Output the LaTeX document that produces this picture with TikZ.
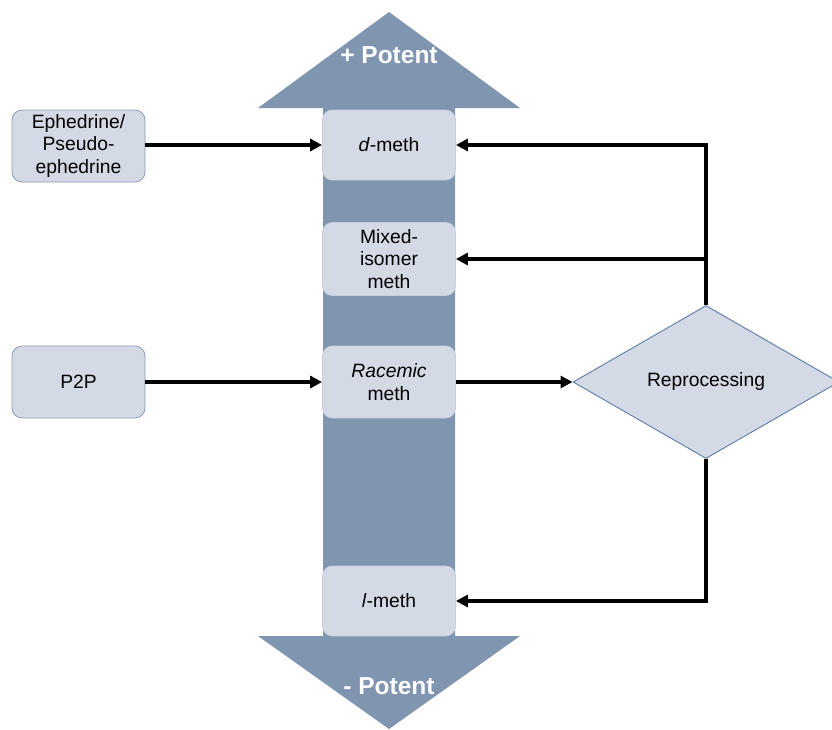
\documentclass[tikz,border=0pt]{standalone}
\usepackage{fontspec}
\setmainfont{Liberation Sans}
\usetikzlibrary{shapes.geometric,arrows.meta}
\definecolor{shaftc}{HTML}{8095B0}
\definecolor{boxc}{HTML}{D3DAE5}
\definecolor{boxline}{HTML}{8B9BB2}
\definecolor{dialine}{HTML}{5C7BA6}
\tikzset{
  midbox/.style={draw=boxc!85!shaftc, fill=boxc, rounded corners=10pt, minimum width=133pt, inner sep=0pt, align=center, font=\fontsize{19.3}{22.8}\selectfont, line width=0.8pt},
  sidebox/.style={draw=boxline, fill=boxc, rounded corners=10pt, minimum width=133pt, inner sep=0pt, align=center, font=\fontsize{19.3}{22.8}\selectfont, line width=0.8pt},
  dia/.style={diamond, draw=dialine, fill=boxc, line width=0.9pt, minimum width=266pt, minimum height=153pt, inner sep=0pt, aspect=1.74, font=\fontsize{19.3}{22.8}\selectfont},
  conn/.style={line width=3.6pt, -{Triangle[length=12pt,width=12pt]}},
  potent/.style={text=white, font=\fontsize{24.5}{28}\selectfont\bfseries}
}
\begin{document}
\begin{tikzpicture}[x=1pt,y=-1pt]
\useasboundingbox (0,0) rectangle (832,729);
\fill[shaftc] (258,108) -- (389,12) -- (520,108) -- (455,108) -- (455,636) -- (520,636) -- (389,729) -- (258,636) -- (323,636) -- (323,108) -- cycle;
\node[potent] (plus) at (389,55) {+ Potent};
\node[potent] (minus) at (389,686) {- Potent};
\node[midbox, minimum height=70pt] (d) at (389,145) {\textit{d}-meth};
\node[midbox, minimum height=73pt] (mix) at (389,259) {Mixed-\\isomer\\meth};
\node[midbox, minimum height=72pt] (rac) at (389,382) {\textit{Racemic}\\meth};
\node[midbox, minimum height=70pt] (l) at (389,601) {\textit{l}-meth};
\node[sidebox, minimum height=72pt] (eph) at (78.5,146) {Ephedrine/\\Pseudo-\\ephedrine};
\node[sidebox, minimum height=72pt] (p2p) at (78.5,382) {P2P};
\node[dia] (rep) at (706,382) {Reprocessing};
\draw[conn] (eph.east |- d.west) -- (d.west);
\draw[conn] (p2p.east) -- (rac.west);
\draw[conn] (rac.east) -- (rep.west);
\draw[conn] (rep.north) |- (d.east);
\draw[conn] (rep.north |- mix.east) -- (mix.east);
\draw[conn] (rep.south) |- (l.east);
\end{tikzpicture}
\end{document}
